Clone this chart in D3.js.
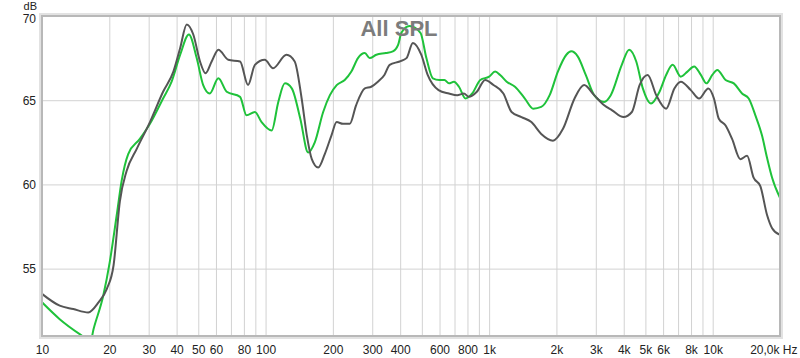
<!DOCTYPE html>
<html>
<head>
<meta charset="utf-8">
<script src="https://cdn.jsdelivr.net/npm/d3@7"></script>
<style>
  body { margin: 0; background: #fff; }
  svg { display: block; font-family: "Liberation Sans", Arial, sans-serif; }
</style>
</head>
<body>
<div id="chart"></div>
<script>
// frequency grid and labels
const gridFreqs = [20, 30, 40, 50, 60, 70, 80, 90, 100, 200, 300, 400, 500, 600, 700, 800, 900,
    1000, 2000, 3000, 4000, 5000, 6000, 7000, 8000, 9000, 10000];
const labelFreqs = [10, 20, 30, 40, 50, 60, 80, 100, 200, 300, 400, 600, 800, 1000,
    2000, 3000, 4000, 5000, 6000, 8000, 10000, 20000];
const labelTexts = ["10", "20", "30", "40", "50", "60", "80", "100", "200", "300", "400", "600", "800", "1k",
    "2k", "3k", "4k", "5k", "6k", "8k", "10k", "20,0k Hz"];
const dbTicks = [55, 60, 65, 70];

// dark grey curve
const freqGrey = [10, 12, 13.8, 16.1, 17.9, 19.5, 20.9, 22.3, 23.9, 26.5, 30.4, 34.8, 38.7, 41.5, 44.4, 47.5,
    50.9, 53.9, 57.4, 61.5, 68.1, 76.9, 83.5, 89.6, 99.2, 108, 124, 135, 145, 153, 161, 172, 184, 197,
    208, 222, 238, 254, 278, 297, 318, 340, 359, 398, 427, 456, 497, 531, 594, 661, 720, 771, 811, 881,
    960, 1046, 1158, 1260, 1395, 1545, 1710, 1930, 2140, 2410, 2660, 2950, 3270, 3550, 3990, 4350, 4710,
    5120, 5590, 6190, 6740, 7200, 7980, 8690, 9560, 10130, 10650, 11420, 12210, 13290, 14250, 15240,
    16330, 17490, 18440, 20000];
const splGrey = [53.5, 52.8, 52.6, 52.4, 53.0, 53.8, 55.2, 59.0, 60.8, 62.1, 63.7, 65.5, 66.7, 68.1, 69.5, 68.9,
    67.3, 66.6, 67.3, 68.0, 67.4, 67.3, 65.9, 67.1, 67.4, 66.9, 67.7, 67.3, 65.1, 62.9, 61.5, 61.0, 61.8, 62.9,
    63.7, 63.6, 63.6, 64.7, 65.7, 65.8, 66.1, 66.5, 67.1, 67.3, 67.5, 68.4, 67.7, 66.5, 65.6, 65.4, 65.3, 65.4, 65.2, 65.5,
    66.2, 65.9, 65.4, 64.3, 64.0, 63.7, 63.0, 62.6, 63.3, 65.1, 65.9, 65.3, 64.7, 64.4, 64.0, 64.3, 65.9,
    66.5, 65.3, 64.5, 65.7, 66.1, 65.6, 65.1, 65.7, 65.1, 63.9, 63.5, 62.7, 61.5, 61.7, 60.4,
    59.9, 58.2, 57.4, 57.0];

// green curve
const freqGreen = [10, 12, 14.8, 16.5, 17, 18.8, 20.1, 21.6, 22.7, 24.3, 27.4, 30.4, 34.8, 38, 41.5, 45.4, 49.2,
    52.6, 56.3, 61.5, 67, 76.9, 82.2, 89.6, 96, 106.5, 114, 122, 131, 143, 155, 166, 181, 194, 208, 226,
    242, 259, 278, 292, 313, 345, 371, 392, 405, 440, 493, 524, 560, 598, 631, 661, 696, 733, 784, 840,
    913, 1000, 1064, 1120, 1198, 1305, 1445, 1575, 1710, 1865, 2030, 2215, 2330, 2490, 2705, 2950, 3270,
    3500, 3920, 4230, 4550, 4870, 5300, 5780, 6190, 6620, 7200, 7710, 8260, 8850, 9370, 9960, 10480,
    11420, 12430, 13530, 14490, 15520, 16620, 17490, 18440, 20000];
const splGreen = [53.0, 52.0, 51.1, 50.7, 51.4, 53.4, 55.4, 58.2, 60.2, 61.8, 62.7, 63.6, 65.1, 66.1, 67.7, 68.9, 67.5,
    65.9, 65.4, 66.3, 65.5, 65.2, 64.1, 64.3, 63.7, 63.2, 64.9, 66.0, 65.7, 63.9, 61.9, 62.5, 64.3, 65.3, 65.9, 66.2,
    66.7, 67.5, 67.8, 67.5, 67.7, 67.8, 67.9, 68.3, 69.0, 69.4, 69.0, 67.5, 66.3, 66.2, 66.2, 66.0, 66.1, 65.8, 65.1, 65.4,
    66.2, 66.4, 66.7, 66.5, 66.1, 65.8, 65.1, 64.5, 64.6, 65.3, 66.7, 67.7, 67.9, 67.6, 66.5, 65.3, 64.9,
    65.3, 67.1, 68.0, 67.3, 65.7, 64.8, 65.5, 66.5, 67.1, 66.4, 66.7, 67.0, 66.5, 66.0, 66.5, 66.8,
    66.2, 66.0, 65.4, 65.1, 64.1, 62.9, 61.6, 60.4, 59.2];

const width = 800;
const height = 358;
const margins = { top: 16, right: 20, bottom: 22, left: 42 };

const svg = d3.select("#chart")
    .append("svg")
    .attr("width", width)
    .attr("height", height);

const x = d3.scaleLog()
    .domain([10, 20000])
    .range([margins.left, width - margins.right]);
const y = d3.scaleLinear()
    .domain([51, 70])
    .range([height - margins.bottom, margins.top]);

// grid
svg.append("g")
    .attr("transform", `translate(0,${height - margins.bottom})`)
    .call(d3.axisBottom(x).tickValues(gridFreqs).tickSize(-(y.range()[0] - y.range()[1])).tickFormat(""))
    .call(g => g.select(".domain").remove())
    .call(g => g.selectAll(".tick line").attr("stroke", "#d2d2d2"));

svg.append("g")
    .attr("transform", `translate(${margins.left},0)`)
    .call(d3.axisLeft(y).tickValues(dbTicks.filter(d => d < 70)).tickSize(-(x.range()[1] - x.range()[0])).tickFormat(""))
    .call(g => g.select(".domain").remove())
    .call(g => g.selectAll(".tick line").attr("stroke", "#d2d2d2"));

// curves
svg.append("clipPath")
    .attr("id", "plot-clip")
    .append("rect")
    .attr("x", margins.left)
    .attr("y", margins.top)
    .attr("width", x.range()[1] - x.range()[0])
    .attr("height", y.range()[0] - y.range()[1]);

const line = d3.line()
    .x(d => x(d[0]))
    .y(d => y(d[1]))
    .curve(d3.curveMonotoneX);

const plot = svg.append("g").attr("clip-path", "url(#plot-clip)");

plot.append("path")
    .attr("d", line(d3.zip(freqGreen, splGreen)))
    .attr("fill", "none")
    .attr("stroke", "#1fc23a")
    .attr("stroke-width", 2);

plot.append("path")
    .attr("d", line(d3.zip(freqGrey, splGrey)))
    .attr("fill", "none")
    .attr("stroke", "#555555")
    .attr("stroke-width", 2);

// frame
svg.append("rect")
    .attr("x", margins.left - 1)
    .attr("y", margins.top - 1)
    .attr("width", x.range()[1] - x.range()[0] + 2)
    .attr("height", y.range()[0] - y.range()[1] + 2)
    .attr("fill", "none")
    .attr("stroke", "#e2e2e2")
    .attr("stroke-width", 4);
svg.append("rect")
    .attr("x", margins.left)
    .attr("y", margins.top)
    .attr("width", x.range()[1] - x.range()[0])
    .attr("height", y.range()[0] - y.range()[1])
    .attr("fill", "none")
    .attr("stroke", "#b8b8b8")
    .attr("stroke-width", 2);

// axis labels
const gx = svg.append("g")
    .attr("transform", `translate(0,${height - margins.bottom})`)
    .call(d3.axisBottom(x).tickValues(labelFreqs).tickSize(0).tickPadding(9)
        .tickFormat((d, i) => labelTexts[i]))
    .call(g => g.select(".domain").remove());
gx.selectAll("text")
    .attr("fill", "#222")
    .style("font-size", "12px")
    .style("font-family", "'Liberation Sans', Arial, sans-serif");
gx.selectAll(".tick").filter(d => d === 20000).select("text")
    .attr("text-anchor", "end")
    .attr("x", 17);

const gy = svg.append("g")
    .attr("transform", `translate(${margins.left},0)`)
    .call(d3.axisLeft(y).tickValues(dbTicks).tickSize(0).tickPadding(6))
    .call(g => g.select(".domain").remove());
gy.selectAll("text")
    .attr("fill", "#222")
    .style("font-size", "12px")
    .style("font-family", "'Liberation Sans', Arial, sans-serif");
gy.selectAll(".tick").filter(d => d === 70).select("text")
    .attr("dy", "0.55em");

svg.append("text")
    .attr("x", 37)
    .attr("y", 10)
    .attr("text-anchor", "end")
    .attr("font-size", 11)
    .attr("fill", "#222")
    .text("dB");

svg.append("text")
    .attr("x", 399)
    .attr("y", 36)
    .attr("text-anchor", "middle")
    .attr("font-size", 22)
    .attr("font-weight", "bold")
    .attr("fill", "#7c7c7c")
    .text("All SPL");
</script>
</body>
</html>
